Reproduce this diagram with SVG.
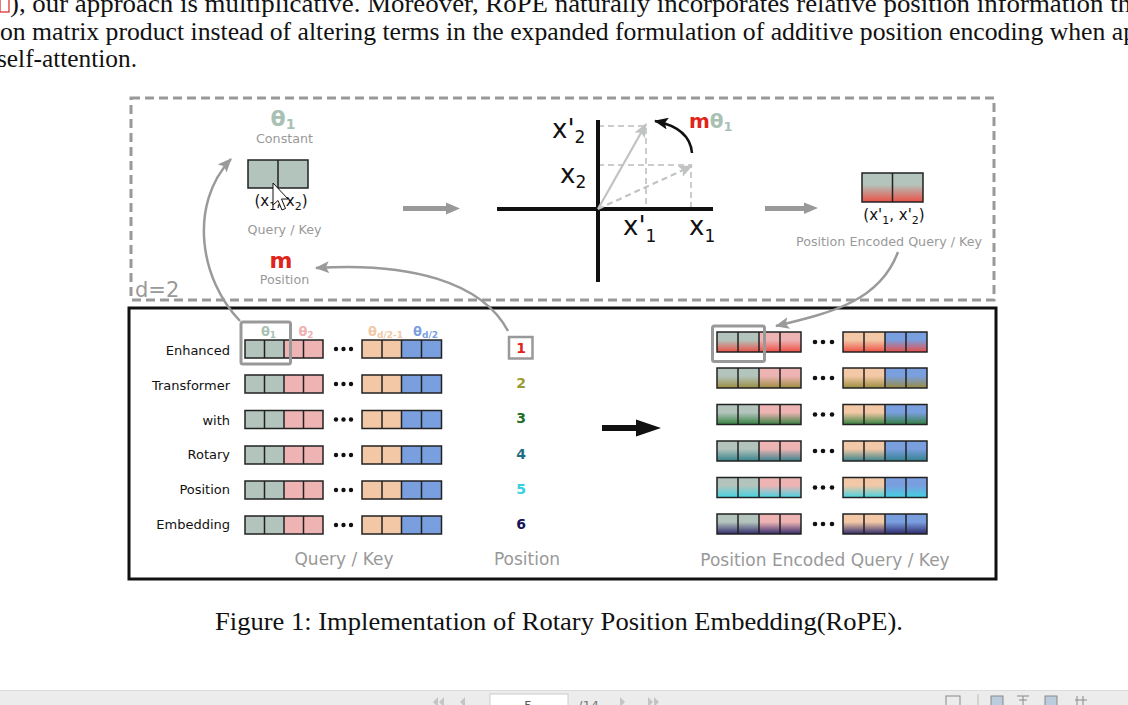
<svg xmlns="http://www.w3.org/2000/svg" width="1128" height="705" viewBox="0 0 1128 705">
<defs>
<style>
.serif{font-family:"Liberation Serif","Times New Roman",serif;fill:#111;font-size:25.5px}
.sans{font-family:"DejaVu Sans",Verdana,sans-serif}
.lbl{font-size:12.7px;fill:#999;text-anchor:middle}
.row{font-size:13px;fill:#111;text-anchor:end}
.big{font-size:17px;fill:#999;text-anchor:middle}
.num{font-size:14px;font-weight:bold;text-anchor:middle}
.ax{font-size:26px;fill:#111}
.grid{stroke:#222;stroke-width:1.5;fill:none}
.conn{fill:none;stroke:#9a9a9a;stroke-width:2.5}
.thick{fill:none;stroke:#999;stroke-width:5}
.guide{fill:none;stroke:#ccc;stroke-width:2;stroke-dasharray:6 4}
.G{fill:#b3c4bc}.P{fill:#eeb4b4}.E{fill:#f2c8a6}.B{fill:#7a9fdf}
</style>
<marker id="ah" viewBox="0 0 14 12" refX="13" refY="6" markerWidth="14" markerHeight="12" markerUnits="userSpaceOnUse" orient="auto"><path d="M0,0 L14,6 L0,12 L3,6 z" fill="#9a9a9a"/></marker>
<marker id="ahk" viewBox="0 0 14 12" refX="13" refY="6" markerWidth="14" markerHeight="12" markerUnits="userSpaceOnUse" orient="auto"><path d="M0,0 L14,6 L0,12 L3,6 z" fill="#111"/></marker>
<marker id="ahl" viewBox="0 0 14 12" refX="13" refY="6" markerWidth="14" markerHeight="12" markerUnits="userSpaceOnUse" orient="auto"><path d="M0,0 L14,6 L0,12 L3,6 z" fill="#bfc4c2"/></marker>
<linearGradient id="g1" x1="0" y1="0" x2="0" y2="1"><stop offset="0.4" stop-color="#ee4a40" stop-opacity="0"/><stop offset="1" stop-color="#ee4a40" stop-opacity="0.95"/></linearGradient>
<linearGradient id="g2" x1="0" y1="0" x2="0" y2="1"><stop offset="0.4" stop-color="#9a8a3a" stop-opacity="0"/><stop offset="1" stop-color="#9a8a3a" stop-opacity="0.95"/></linearGradient>
<linearGradient id="g3" x1="0" y1="0" x2="0" y2="1"><stop offset="0.4" stop-color="#2e7d3a" stop-opacity="0"/><stop offset="1" stop-color="#2e7d3a" stop-opacity="0.95"/></linearGradient>
<linearGradient id="g4" x1="0" y1="0" x2="0" y2="1"><stop offset="0.4" stop-color="#2f7f8a" stop-opacity="0"/><stop offset="1" stop-color="#2f7f8a" stop-opacity="0.95"/></linearGradient>
<linearGradient id="g5" x1="0" y1="0" x2="0" y2="1"><stop offset="0.4" stop-color="#3fd4e4" stop-opacity="0"/><stop offset="1" stop-color="#3fd4e4" stop-opacity="0.95"/></linearGradient>
<linearGradient id="g6" x1="0" y1="0" x2="0" y2="1"><stop offset="0.4" stop-color="#2a2468" stop-opacity="0"/><stop offset="1" stop-color="#2a2468" stop-opacity="0.95"/></linearGradient>
<g id="Lrow">
<rect class="G" x="0" y="0" width="39" height="18"/><rect class="P" x="39" y="0" width="39" height="18"/>
<rect class="E" x="117" y="0" width="39.5" height="18"/><rect class="B" x="156.5" y="0" width="40" height="18"/>
<path class="grid" d="M0,0h78v18h-78z M19.5,0v18 M39,0v18 M58.5,0v18 M117,0h79.5v18h-79.5z M137,0v18 M156.5,0v18 M176.5,0v18"/>
<circle cx="91" cy="9" r="2.2" fill="#111"/><circle cx="98.5" cy="9" r="2.2" fill="#111"/><circle cx="106" cy="9" r="2.2" fill="#111"/>
</g>
<g id="Rfill">
<rect class="G" x="0" y="0" width="42" height="20"/><rect class="P" x="42" y="0" width="42" height="20"/>
<rect class="E" x="126" y="0" width="42" height="20"/><rect class="B" x="168" y="0" width="42" height="20"/>
</g>
<g id="Rgrid">
<path class="grid" d="M0,0h84v20h-84z M21,0v20 M42,0v20 M63,0v20 M126,0h84v20h-84z M147,0v20 M168,0v20 M189,0v20"/>
<circle cx="98" cy="10" r="2.3" fill="#111"/><circle cx="106" cy="10" r="2.3" fill="#111"/><circle cx="115" cy="10" r="2.3" fill="#111"/>
</g>
</defs>
<rect width="1128" height="705" fill="#ffffff"/>

<g id="page-text">
<rect x="0" y="-2" width="9" height="14" fill="none" stroke="#d22" stroke-width="1.2"/>
<text class="serif" x="10" y="12" textLength="1130" lengthAdjust="spacingAndGlyphs">), our approach is multiplicative.  Moreover, RoPE naturally incorporates relative position information thr</text>
<text class="serif" x="0" y="40" textLength="1136" lengthAdjust="spacingAndGlyphs">on matrix product instead of altering terms in the expanded formulation of additive position encoding when ap</text>
<text class="serif" x="-3" y="67" textLength="140" lengthAdjust="spacingAndGlyphs">self-attention.</text>
<text class="serif" x="215" y="630" textLength="688" lengthAdjust="spacingAndGlyphs">Figure 1: Implementation of Rotary Position Embedding(RoPE).</text>
</g>

<g id="frames">
<rect x="131" y="98" width="863" height="202" fill="none" stroke="#999" stroke-width="3" stroke-dasharray="9 5"/>
<rect x="129" y="308" width="867" height="271" fill="none" stroke="#111" stroke-width="3"/>
<text class="sans" x="135" y="297" font-size="21" fill="#999">d=2</text>
</g>

<g id="node-query-key-2d">
<text class="sans" x="283" y="126" font-size="22" font-weight="bold" fill="#a9c1b3" text-anchor="middle">θ<tspan font-size="14" dy="3">1</tspan></text>
<text class="sans lbl" x="284.5" y="143">Constant</text>
<rect class="G" x="248" y="160" width="60" height="28"/>
<path class="grid" d="M248,160h60v28h-60z M278,160v28" stroke-width="2"/>
<text class="sans" x="281" y="206" font-size="15" fill="#111" text-anchor="middle">(x<tspan font-size="11" dy="4">1</tspan><tspan dy="-4">, x</tspan><tspan font-size="11" dy="4">2</tspan><tspan dy="-4">)</tspan></text>
<text class="sans lbl" x="284.5" y="234">Query / Key</text>
<text class="sans" x="281" y="268" font-size="22" font-weight="bold" fill="#e0241c" text-anchor="middle">m</text>
<text class="sans lbl" x="284.5" y="284">Position</text>
<path d="M273,183 L273,205 L278,200.5 L282,210 L285.5,208.5 L281.5,199 L288,199 Z" fill="#fff" stroke="#111" stroke-width="1"/>
</g>

<g id="node-rotation-plot">
<path class="guide" d="M598,126H646V209 M598,165H691V209"/>
<line x1="497" y1="209" x2="713" y2="209" stroke="#111" stroke-width="4"/>
<line x1="598" y1="120" x2="598" y2="282" stroke="#111" stroke-width="4"/>
<line x1="598" y1="209" x2="646" y2="124" stroke="#bfc4c2" stroke-width="2.2" marker-end="url(#ahl)"/>
<line x1="598" y1="209" x2="692" y2="166" stroke="#bfc4c2" stroke-width="2.2" stroke-dasharray="6 4" marker-end="url(#ahl)"/>
<text class="sans ax" x="552" y="138">x'<tspan font-size="17" dy="5">2</tspan></text>
<text class="sans ax" x="560" y="183">x<tspan font-size="17" dy="5">2</tspan></text>
<text class="sans ax" x="623" y="235">x'<tspan font-size="17" dy="7">1</tspan></text>
<text class="sans ax" x="689" y="235">x<tspan font-size="17" dy="7">1</tspan></text>
<path d="M692,153 Q690,128 655,121" fill="none" stroke="#111" stroke-width="2.5" marker-end="url(#ahk)"/>
<text class="sans" x="689" y="128" font-size="20" font-weight="bold" fill="#e0241c">m<tspan fill="#a9c1b3">θ</tspan><tspan fill="#a9c1b3" font-size="13" dy="3">1</tspan></text>
</g>

<g id="node-encoded-2d">
<rect class="G" x="862" y="173" width="61" height="29"/>
<rect x="862" y="173" width="61" height="29" fill="url(#g1)"/>
<path class="grid" d="M862,173h61v29h-61z M892.5,173v29" stroke-width="2"/>
<text class="sans" x="894" y="220" font-size="15" fill="#111" text-anchor="middle">(x'<tspan font-size="11" dy="4">1</tspan><tspan dy="-4">, x'</tspan><tspan font-size="11" dy="4">2</tspan><tspan dy="-4">)</tspan></text>
<text class="sans lbl" x="889" y="246">Position Encoded Query / Key</text>
</g>

<g id="node-query-key-rows">
<text class="sans" x="268.5" y="336" font-size="13" font-weight="bold" fill="#a9c1b3" text-anchor="middle">θ<tspan font-size="9" dy="2">1</tspan></text>
<text class="sans" x="306" y="336" font-size="13" font-weight="bold" fill="#eeb0b0" text-anchor="middle">θ<tspan font-size="9" dy="2">2</tspan></text>
<text class="sans" x="368" y="336" font-size="13" font-weight="bold" fill="#f2c8a6">θ<tspan font-size="9" dy="2">d/2-1</tspan></text>
<text class="sans" x="413" y="336" font-size="13" font-weight="bold" fill="#7a9fdf">θ<tspan font-size="9" dy="2">d/2</tspan></text>
<text class="sans row" x="230" y="355">Enhanced</text>
<text class="sans row" x="230" y="390">Transformer</text>
<text class="sans row" x="230" y="425">with</text>
<text class="sans row" x="230" y="459">Rotary</text>
<text class="sans row" x="230" y="494">Position</text>
<text class="sans row" x="230" y="529">Embedding</text>
<use href="#Lrow" x="245" y="340"/>
<use href="#Lrow" x="245" y="375"/>
<use href="#Lrow" x="245" y="410.5"/>
<use href="#Lrow" x="245" y="446"/>
<use href="#Lrow" x="245" y="481"/>
<use href="#Lrow" x="245" y="516"/>
<rect x="241" y="322" width="49.5" height="42" rx="2" fill="none" stroke="#999" stroke-width="3"/>
<text class="sans big" x="344" y="565">Query / Key</text>
</g>

<g id="node-positions">
<rect x="509" y="337" width="23.5" height="21.5" fill="#fff" stroke="#999" stroke-width="2.5"/>
<text class="sans num" x="521" y="353" fill="#e0241c">1</text>
<text class="sans num" x="521" y="388" fill="#9a9a2e">2</text>
<text class="sans num" x="521" y="423" fill="#1f6e28">3</text>
<text class="sans num" x="521" y="459" fill="#1f6f82">4</text>
<text class="sans num" x="521" y="494" fill="#35d0e2">5</text>
<text class="sans num" x="521" y="529" fill="#15125a">6</text>
<text class="sans big" x="527" y="565">Position</text>
</g>

<g id="node-encoded-rows">
<use href="#Rfill" x="717" y="332"/><rect x="717" y="332" width="84" height="20" fill="url(#g1)"/><rect x="843" y="332" width="84" height="20" fill="url(#g1)"/><use href="#Rgrid" x="717" y="332"/>
<use href="#Rfill" x="717" y="368"/><rect x="717" y="368" width="84" height="20" fill="url(#g2)"/><rect x="843" y="368" width="84" height="20" fill="url(#g2)"/><use href="#Rgrid" x="717" y="368"/>
<use href="#Rfill" x="717" y="404.5"/><rect x="717" y="404.5" width="84" height="20" fill="url(#g3)"/><rect x="843" y="404.5" width="84" height="20" fill="url(#g3)"/><use href="#Rgrid" x="717" y="404.5"/>
<use href="#Rfill" x="717" y="441"/><rect x="717" y="441" width="84" height="20" fill="url(#g4)"/><rect x="843" y="441" width="84" height="20" fill="url(#g4)"/><use href="#Rgrid" x="717" y="441"/>
<use href="#Rfill" x="717" y="477.5"/><rect x="717" y="477.5" width="84" height="20" fill="url(#g5)"/><rect x="843" y="477.5" width="84" height="20" fill="url(#g5)"/><use href="#Rgrid" x="717" y="477.5"/>
<use href="#Rfill" x="717" y="514"/><rect x="717" y="514" width="84" height="20" fill="url(#g6)"/><rect x="843" y="514" width="84" height="20" fill="url(#g6)"/><use href="#Rgrid" x="717" y="514"/>
<rect x="712.5" y="326" width="52" height="35.5" rx="2" fill="none" stroke="#999" stroke-width="3"/>
<text class="sans big" x="825" y="566">Position Encoded Query / Key</text>
</g>

<g id="connectors">
<path class="conn" d="M240,321 C200,280 188,205 231,159" marker-end="url(#ah)"/>
<path class="conn" d="M508,331 C482,282 410,262 316,268" marker-end="url(#ah)"/>
<path class="conn" d="M898,252 C880,300 835,312 776,326" marker-end="url(#ah)"/>
<line class="thick" x1="403" y1="208.5" x2="448" y2="208.5"/>
<path d="M446,202.5 L460,208.5 L446,214.5 Z" fill="#999"/>
<line class="thick" x1="765" y1="208.5" x2="806" y2="208.5"/>
<path d="M804,202.5 L818,208 L804,214 Z" fill="#999"/>
<line x1="602" y1="428" x2="640" y2="428" stroke="#111" stroke-width="6"/>
<path d="M636,419.5 L661,428 L636,436.5 Z" fill="#111"/>
</g>

<g id="toolbar">
<rect x="0" y="690" width="1128" height="15" fill="#ececec"/>
<line x1="0" y1="690.5" x2="1128" y2="690.5" stroke="#dcdcdc"/>
<path d="M438,697 l-5,5 l5,5 z M444,697 l-5,5 l5,5 z M465,697 l-5,5 l5,5 z" fill="#c4c4c4"/>
<rect x="490" y="694" width="78" height="14" fill="#fff" stroke="#ccc"/>
<text class="sans" x="524" y="710" font-size="13" fill="#555">5</text>
<text class="sans" x="578" y="710" font-size="13" fill="#777">/14</text>
<path d="M620,697 l5,5 l-5,5 z M648,697 l5,5 l-5,5 z M654,697 l5,5 l-5,5 z" fill="#c4c4c4"/>
<rect x="946" y="696" width="14" height="10" fill="none" stroke="#888"/>
<line x1="978" y1="694" x2="978" y2="705" stroke="#bbb"/>
<rect x="991" y="696" width="12" height="10" fill="#bcd" stroke="#888"/>
<path d="M1017,696 h12 M1023,696 v10 M1019,700 h8" stroke="#888" fill="none"/>
<rect x="1045" y="696" width="12" height="10" fill="#bcd" stroke="#888"/>
<path d="M1077,696 v10 M1083,696 v10 M1075,700 h12" stroke="#888" fill="none"/>
</g>
</svg>
